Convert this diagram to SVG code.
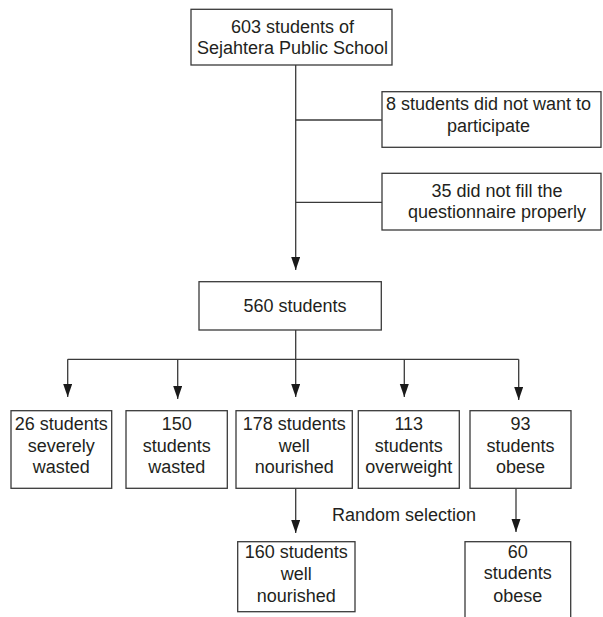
<svg xmlns="http://www.w3.org/2000/svg" width="603" height="617" viewBox="0 0 603 617">
<style>
.box{fill:#fff;stroke:#3a3a3a;stroke-width:1.3}
.ln{fill:none;stroke:#3a3a3a;stroke-width:1.3}
text{font-family:"Liberation Sans",Arial,sans-serif;font-size:18px;fill:#231f20;text-anchor:middle}
</style>
<defs>
<marker id="ah" markerUnits="userSpaceOnUse" markerWidth="14" markerHeight="10" refX="13" refY="4.5" orient="auto">
<path d="M0,0 L13,4.5 L0,9 z" fill="#1a1a1a"/>
</marker>
</defs>
<rect width="603" height="617" fill="#fff"/>
<g id="connectors">
<path class="ln" d="M295.7,65 V270" marker-end="url(#ah)"/>
<path class="ln" d="M295.7,120 H382"/>
<path class="ln" d="M295.7,202.3 H382"/>
<path class="ln" d="M295.7,330 V359.3"/>
<path class="ln" d="M67.7,359.3 H518.7"/>
<path class="ln" d="M67.7,359.3 V397" marker-end="url(#ah)"/>
<path class="ln" d="M177.7,359.3 V399" marker-end="url(#ah)"/>
<path class="ln" d="M295.7,359.3 V397" marker-end="url(#ah)"/>
<path class="ln" d="M404.3,359.3 V397" marker-end="url(#ah)"/>
<path class="ln" d="M518.7,359.3 V400" marker-end="url(#ah)"/>
<path class="ln" d="M295.7,488.3 V533" marker-end="url(#ah)"/>
<path class="ln" d="M516,488.3 V532" marker-end="url(#ah)"/>
</g>
<g id="n-total">
<rect class="box" x="191" y="9.3" width="201" height="55.7"/>
<text x="292.5" y="33.3">603 students of</text>
<text x="292.5" y="54.3">Sejahtera Public School</text>
</g>
<g id="n-excl1">
<rect class="box" x="382" y="91.7" width="219" height="55.6"/>
<text x="488.5" y="110">8 students did not want to</text>
<text x="488.5" y="131.7">participate</text>
</g>
<g id="n-excl2">
<rect class="box" x="382" y="173.3" width="219" height="56.7"/>
<text x="497" y="196.7">35 did not fill the</text>
<text x="497" y="218.3">questionnaire properly</text>
</g>
<g id="n-560">
<rect class="box" x="199" y="281.7" width="182.3" height="48.3"/>
<text x="295" y="311.7">560 students</text>
</g>
<g id="n-severe">
<rect class="box" x="11" y="410.7" width="100.7" height="77.6"/>
<text x="61.3" y="430">26 students</text>
<text x="61.3" y="451.7">severely</text>
<text x="61.3" y="473.3">wasted</text>
</g>
<g id="n-wasted">
<rect class="box" x="126" y="410.7" width="101.3" height="77.6"/>
<text x="176.7" y="430">150</text>
<text x="176.7" y="451.7">students</text>
<text x="176.7" y="473.3">wasted</text>
</g>
<g id="n-well">
<rect class="box" x="236" y="410.7" width="116.3" height="77.6"/>
<text x="294.2" y="430">178 students</text>
<text x="294.2" y="451.7">well</text>
<text x="294.2" y="473.3">nourished</text>
</g>
<g id="n-over">
<rect class="box" x="358.3" y="410.7" width="101" height="77.6"/>
<text x="408.8" y="430">113</text>
<text x="408.8" y="451.7">students</text>
<text x="408.8" y="473.3">overweight</text>
</g>
<g id="n-obese">
<rect class="box" x="470" y="410.7" width="101" height="77.6"/>
<text x="520.5" y="430">93</text>
<text x="520.5" y="451.7">students</text>
<text x="520.5" y="473.3">obese</text>
</g>
<g id="label-random">
<text x="404" y="521">Random selection</text>
</g>
<g id="n-well160">
<rect class="box" x="237.7" y="541.7" width="117.3" height="70"/>
<text x="296.3" y="558.3">160 students</text>
<text x="296.3" y="580">well</text>
<text x="296.3" y="601.7">nourished</text>
</g>
<g id="n-obese60">
<rect class="box" x="465" y="541.7" width="105.7" height="90"/>
<text x="517.8" y="558.3">60</text>
<text x="517.8" y="579.3">students</text>
<text x="517.8" y="601.7">obese</text>
</g>
</svg>
